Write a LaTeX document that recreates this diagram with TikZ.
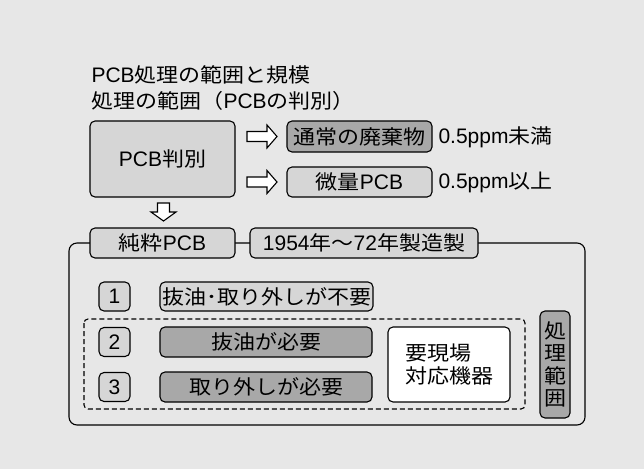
\documentclass[tikz,border=0pt]{standalone}
\usepackage{fontspec}
\setmainfont[FakeStretch=1.1]{Noto Sans CJK JP}
\newfontfamily\latfont[Scale=1.05]{Liberation Sans}
\newcommand\en[1]{{\latfont #1}}
\usetikzlibrary{positioning}

\definecolor{bgcol}{gray}{0.905}
\definecolor{lightcol}{gray}{0.84}
\definecolor{darkcol}{gray}{0.66}

\tikzset{
  box/.style={draw, rounded corners=5pt, fill=lightcol, inner sep=0pt,
    font=\fontsize{20}{23}\selectfont},
  darkbox/.style={box, fill=darkcol},
  numbox/.style={box, minimum width=31pt, minimum height=29pt},
  plain/.style={inner sep=0pt, font=\fontsize{20}{23}\selectfont},
  rarrow/.pic={\draw[fill=white] (0,-5) -- (20,-5) -- (20,-11.5) -- (30,0)
    -- (20,11.5) -- (20,5) -- (0,5) -- cycle;},
  darrow/.pic={\draw[fill=white] (-6,0) -- (-6,9) -- (-12.5,9) -- (0,18)
    -- (12.5,9) -- (6,9) -- (6,0) -- cycle;},
}

\begin{document}
\begin{tikzpicture}[x=1pt,y=-1pt,line width=1.1pt]
\fill[bgcol] (0,0) rectangle (644,469);
\useasboundingbox (0,0) rectangle (644,469);

% titles
\node[plain, anchor=west] (title) at (91,75) {\en{PCB}処理の範囲と規模};
\node[plain, anchor=west] (subtitle) at (91,101) {処理の範囲（\en{PCB}の判別）};

% judgement
\node[box, minimum width=145pt, minimum height=76pt] (judge) at (162.5,159) {\en{PCB}判別};
\node[darkbox, minimum width=145pt, minimum height=31pt] (normal) at (359.5,136.5) {通常の廃棄物};
\node[box, minimum width=145pt, minimum height=30pt] (trace) at (359.5,182) {微量\en{PCB}};
\node[plain, anchor=west] (under) at (438,137) {\en{0.5ppm}未満};
\node[plain, anchor=west] (over) at (438,182) {\en{0.5ppm}以上};
\pic at (247,136.5) {rarrow};
\pic at (247,182) {rarrow};
\pic at (163.5,203) {darrow};

% pure PCB frame
\draw[rounded corners=8pt] (69,243) rectangle (585,425);
\node[box, minimum width=145pt, minimum height=30pt] (pure) at (162.5,243) {純粋\en{PCB}};
\node[box, minimum width=228pt, minimum height=30pt] (year) at (364,243) {\en{1954}年〜\en{72}年製造製};

\node[numbox] (n1) at (114.5,296.5) {\en{1}};
\node[box, minimum width=213pt, minimum height=29pt] (t1) at (266.5,296.5) {抜油･取り外しが不要};

\draw[dash pattern=on 5pt off 3pt, rounded corners=4pt] (84,319) rectangle (525,409);
\node[numbox] (n2) at (114.5,342) {\en{2}};
\node[darkbox, minimum width=212pt, minimum height=30pt] (t2) at (266,342) {抜油が必要};
\node[numbox] (n3) at (114.5,387) {\en{3}};
\node[darkbox, minimum width=212pt, minimum height=30pt] (t3) at (266,387) {取り外しが必要};
\node[box, fill=white, align=left, minimum width=122pt, minimum height=75pt] (onsite) at (449,364.5) {要現場\\対応機器};

\node[darkbox, align=center, minimum width=30pt, minimum height=107pt,
  font=\fontsize{20}{22.5}\selectfont] (range) at (555,364.5) {処\\理\\範\\囲};
\end{tikzpicture}
\end{document}
